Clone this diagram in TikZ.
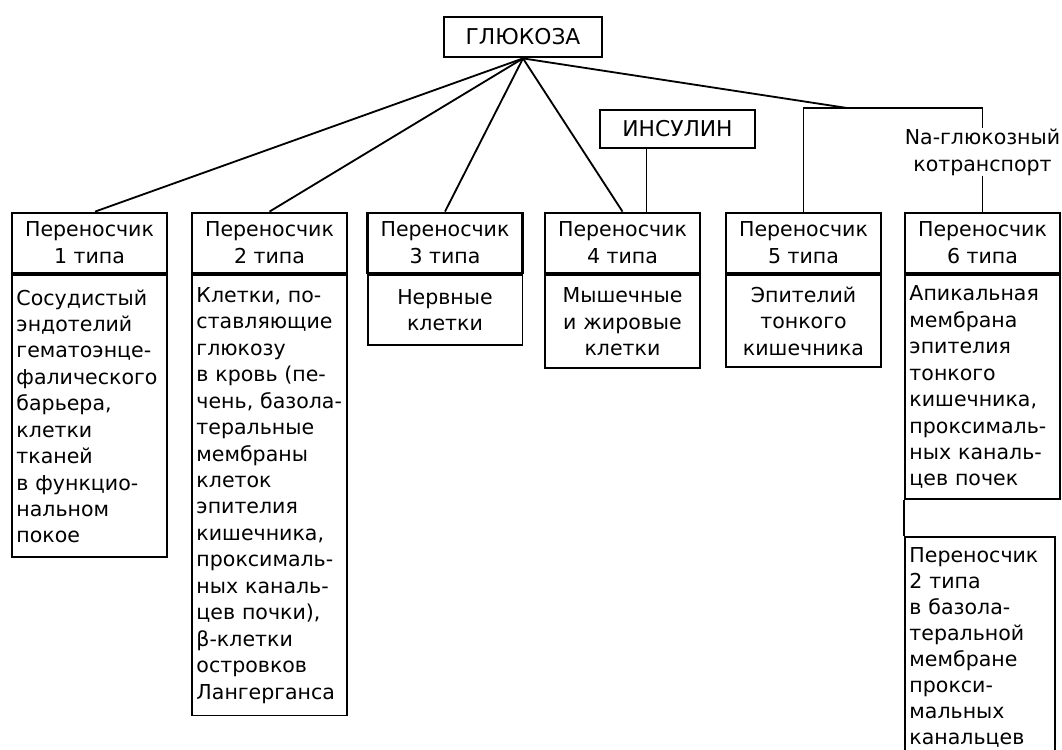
\documentclass[tikz,border=0pt]{standalone}
\usepackage{fontspec}
\setmainfont{DejaVu Sans}
\usetikzlibrary{positioning}
\tikzset{
  px/.style={x=0.025cm,y=-0.025cm},
  mainbox/.style={draw,line width=2pt,inner sep=0pt,font=\fontsize{15.5}{19}\selectfont},
  hdrbox/.style={draw,line width=2pt,inner sep=0pt,minimum width=3.875cm,minimum height=1.5cm,
    align=center,font=\fontsize{14.6}{19}\selectfont},
  bodybox/.style={draw,line width=1.3pt,anchor=north,inner xsep=0.11cm,inner ysep=0.25cm,
    text width=3.65cm,font=\fontsize{14.6}{18.8}\selectfont},
  link/.style={line width=1.3pt},
}
\begin{document}
\begin{tikzpicture}[px]
  \useasboundingbox (0,0) rectangle (1062,749);

  \node[mainbox,minimum width=3.95cm,minimum height=1cm] (glucose) at (523,37) {ГЛЮКОЗА};
  \node[mainbox,minimum width=3.875cm,minimum height=0.95cm] (insulin) at (677.5,129) {ИНСУЛИН};

  \foreach \n/\x in {1/89.5,2/269.5,3/445,4/622.5,5/803.5,6/982.5}
    \node[hdrbox] (hdr\n) at (\x,243) {Переносчик\\\n~типа};

  \node[bodybox,align=left,minimum height=7.05cm] (body1) at (hdr1.south)
    {Сосудистый\\эндотелий\\гематоэнце-\\фалического\\барьера,\\клетки\\тканей\\в~функцио-\\нальном\\покое};
  \node[bodybox,align=left,minimum height=11cm] (body2) at (hdr2.south)
    {Клетки,~по-\\ставляющие\\глюкозу\\в~кровь~(пе-\\чень,~базола-\\теральные\\мембраны\\клеток\\эпителия\\кишечника,\\проксималь-\\ных~каналь-\\цев~почки),\\β-клетки\\островков\\Лангерганса};
  \node[bodybox,align=center,minimum height=1.75cm] (body3) at (hdr3.south)
    {Нервные\\клетки};
  \node[bodybox,align=center,minimum height=2.325cm] (body4) at (hdr4.south)
    {Мышечные\\и~жировые\\клетки};
  \node[bodybox,align=center,minimum height=2.3cm] (body5) at (hdr5.south)
    {Эпителий\\тонкого\\кишечника};
  \node[bodybox,align=left,minimum height=5.6cm] (body6) at (hdr6.south)
    {Апикальная\\мембрана\\эпителия\\тонкого\\кишечника,\\проксималь-\\ных~каналь-\\цев~почек};
  \node[bodybox,align=left,anchor=north west,text width=3.53cm,
        font=\fontsize{14.6}{18.5}\selectfont] (lower)
    at ([yshift=-0.9cm]body6.south west)
    {Переносчик\\2~типа\\в~базола-\\теральной\\мембране\\прокси-\\мальных\\канальцев};

  \node[inner sep=0pt,align=center,font=\fontsize{14.6}{19}\selectfont] (cotr) at (982.5,152)
    {Na-глюкозный\\котранспорт};

  % glucose to the carriers
  \draw[link] (glucose.south) -- ([xshift=0.14cm]hdr1.north);
  \foreach \n in {2,3,4}
    \draw[link] (glucose.south) -- (hdr\n.north);
  \coordinate (na) at (847,108);
  \draw[link] (glucose.south) -- (na);
  \draw[link] (hdr5.north) |- (na) -| (cotr.north);
  \draw[link] (cotr.south) -- (hdr6.north);

  % insulin acts on type 4
  \coordinate (ins) at ([xshift=0.6cm]hdr4.north);
  \draw[link] (ins) -- (ins |- insulin.south);

  \draw[line width=1.3pt] (body6.south west) -- (lower.north west);
\end{tikzpicture}
\end{document}
